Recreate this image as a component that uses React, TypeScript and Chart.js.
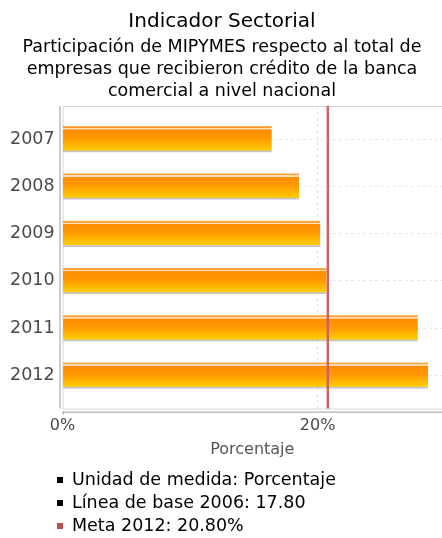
import React, { useEffect, useRef } from "react";
import { Chart, registerables } from "chart.js";

Chart.register(...registerables);

const years = ["2007", "2008", "2009", "2010", "2011", "2012"];
const values = [16.4, 18.55, 20.2, 20.7, 27.85, 28.65];
const metaValue = 20.8;
const xTickValues = [0, 20];
const titleText = "Indicador Sectorial";
const subtitleLines = [
  "Participación de MIPYMES respecto al total de",
  "empresas que recibieron crédito de la banca",
  "comercial a nivel nacional",
];
const axisTitle = "Porcentaje";
const legendTexts = [
  "Unidad de medida: Porcentaje",
  "Línea de base 2006: 17.80",
  "Meta 2012: 20.80%",
];
const legendColors = ["#000000", "#000000", "#c0504d"];

const FONT = "'DejaVu Sans', 'Noto Sans', sans-serif";

export default function App() {
  const canvasRef = useRef<HTMLCanvasElement | null>(null);

  useEffect(() => {
    if (!canvasRef.current) return;
    Chart.defaults.font.family = FONT;

    const boxPlugin = {
      id: "plotBox",
      beforeDatasetsDraw(chart: any) {
        const { ctx, chartArea } = chart;
        const { left, top, right, bottom } = chartArea;
        ctx.save();
        ctx.lineWidth = 1;
        ctx.strokeStyle = "#d6d6d6";
        ctx.beginPath();
        ctx.moveTo(right, top + 0.5);
        ctx.lineTo(left + 0.5, top + 0.5);
        ctx.lineTo(left + 0.5, bottom + 0.5);
        ctx.lineTo(right, bottom + 0.5);
        ctx.stroke();
        ctx.strokeStyle = "#9a9a9a";
        ctx.beginPath();
        ctx.moveTo(left - 2.5, top);
        ctx.lineTo(left - 2.5, bottom);
        ctx.moveTo(left, bottom + 3.5);
        ctx.lineTo(right, bottom + 3.5);
        ctx.moveTo(left + 0.5, bottom + 3);
        ctx.lineTo(left + 0.5, bottom + 6);
        ctx.stroke();
        ctx.restore();
      },
      afterDatasetsDraw(chart: any) {
        const { ctx, chartArea, scales } = chart;
        const x = scales.x.getPixelForValue(metaValue);
        ctx.save();
        ctx.strokeStyle = "#d0625f";
        ctx.lineWidth = 2.5;
        ctx.beginPath();
        ctx.moveTo(x, chartArea.top);
        ctx.lineTo(x, chartArea.bottom);
        ctx.stroke();
        ctx.restore();
      },
    };

    const chart = new Chart(canvasRef.current, {
      type: "bar",
      data: {
        datasets: [
          {
            data: values.map((v, i) => ({ x: v, y: i })),
            barThickness: 26,
            borderWidth: { top: 0, left: 0, right: 0, bottom: 2 },
            borderColor: "#c6c6c6",
            borderSkipped: false,
            backgroundColor: (c: any) => {
              const ch = c.chart;
              const ys = ch.scales && ch.scales.y;
              if (!ys || !ch.chartArea) return "#ff9900";
              const yc = ys.getPixelForValue(c.dataIndex);
              const g = ch.ctx.createLinearGradient(0, yc - 13, 0, yc + 11);
              g.addColorStop(0.0, "#ffb060");
              g.addColorStop(0.045, "#ff9a30");
              g.addColorStop(0.075, "#ff9a30");
              g.addColorStop(0.085, "#ffe0bd");
              g.addColorStop(0.13, "#ffe0bd");
              g.addColorStop(0.15, "#ff8c00");
              g.addColorStop(0.5, "#ff9800");
              g.addColorStop(0.8, "#ffb800");
              g.addColorStop(1.0, "#ffcc00");
              return g;
            },
          } as any,
        ],
      },
      options: {
        indexAxis: "y",
        animation: false,
        responsive: true,
        maintainAspectRatio: false,
        layout: { padding: { left: 2, right: 0, top: 0, bottom: 75 } },
        plugins: {
          legend: { display: false },
          tooltip: { enabled: false },
          title: {
            display: true,
            text: titleText,
            color: "#000000",
            font: { size: 20, weight: "normal", family: FONT, lineHeight: 0.8 },
            padding: { top: 14, bottom: 0 },
          },
          subtitle: {
            display: true,
            text: subtitleLines,
            color: "#000000",
            font: { size: 17.5, weight: "normal", family: FONT, lineHeight: 22 / 17.5 },
            padding: { top: 6, bottom: 4 },
          },
        },
        scales: {
          x: {
            type: "linear",
            min: 0,
            max: 29.75,
            afterBuildTicks: (s: any) => {
              s.ticks = xTickValues.map((v) => ({ value: v }));
            },
            ticks: {
              callback: (v: any) => v + "%",
              color: "#4a4a4a",
              font: { size: 16, family: FONT },
              padding: 8,
              maxRotation: 0,
            },
            grid: {
              drawTicks: false,
              color: (c: any) => (c.tick && c.tick.value === 0 ? "rgba(0,0,0,0)" : "#e0e0e0"),
            },
            border: { display: false, dash: [3, 3] },
            title: {
              display: true,
              text: axisTitle,
              color: "#555555",
              font: { size: 16, family: FONT },
              padding: { top: -4, bottom: 4 },
            },
          },
          y: {
            type: "linear",
            reverse: true,
            offset: false,
            min: -0.7,
            max: 5.7,
            afterBuildTicks: (s: any) => {
              s.ticks = years.map((_, i) => ({ value: i }));
            },
            ticks: {
              callback: (v: any) => years[v] ?? "",
              color: "#4a4a4a",
              font: { size: 17.5, family: FONT },
              padding: 8,
            },
            grid: { drawTicks: false, offset: false, color: "#e8e8e8" },
            border: { display: false, dash: [3, 3] },
          },
        },
      },
      plugins: [boxPlugin],
    } as any);

    return () => chart.destroy();
  }, []);

  return (
    <div style={{ position: "absolute", left: 0, top: 0, width: 442, height: 538, background: "#fff" }}>
      <canvas ref={canvasRef} />
      <div style={{ position: "absolute", left: 0, top: 468, width: 442, fontFamily: FONT, fontSize: 17.5, lineHeight: "23px", color: "#000" }}>
        {legendTexts.map((t, i) => (
          <div key={i} style={{ position: "relative", height: 23 }}>
            <span style={{ position: "absolute", left: 57, top: 8.5, width: 6, height: 6, background: legendColors[i] }} />
            <span style={{ position: "absolute", left: 72, top: 0, whiteSpace: "nowrap" }}>{t}</span>
          </div>
        ))}
      </div>
    </div>
  );
}
